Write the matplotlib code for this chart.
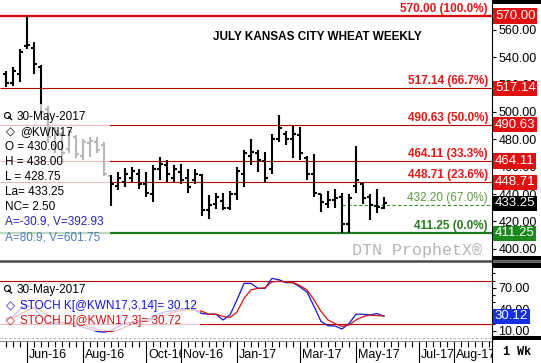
import matplotlib
matplotlib.use('Agg')
import matplotlib.pyplot as plt
from matplotlib.patches import Rectangle
from matplotlib.lines import Line2D
from matplotlib.ticker import FormatStrFormatter, FixedLocator
from matplotlib.transforms import blended_transform_factory, offset_copy, Bbox
import numpy as np

plt.rcParams['font.family'] = ['Liberation Sans', 'DejaVu Sans']

# weekly bars for @KWN17, oldest first, last bar = 30-May-2017
opens = [528, 521, 528, 548, 547, 533, 502, 476, 484, 473, 482, 468, 477, 478, 476,
         453, 446, 449, 452, 455, 447, 440, 458, 461, 452, 456, 452, 450, 454, 428,
         433, 435, 430, 440, 455, 468, 470, 464, 458, 480, 484, 480, 483, 466, 455,
         440, 433, 436, 438, 418, 446, 447, 438, 431, 430.00]
highs = [530, 533, 546, 570, 551, 534, 504, 489, 485, 487, 483, 480, 482, 482, 478,
         454, 456, 459, 460, 458, 456, 461, 467, 465, 461, 462, 458, 458, 455, 439,
         441, 441, 442, 460, 472, 480, 472, 471, 484, 498, 486, 490, 489, 468, 469,
         440, 442, 444, 441, 440, 474.75, 448, 440, 444, 438.00]
lows = [518, 519, 522, 546, 528, 496.5, 477, 470, 467, 470, 466, 465, 467, 470, 453,
        431, 443, 445, 449, 444, 438, 434, 450, 449, 449, 447, 441, 447, 424, 422,
        429, 428, 428, 436, 445, 461, 456, 448, 455, 478, 476, 466, 465, 450, 438,
        427, 430, 430, 411.25, 411.25, 441, 433, 421, 426, 428.75]
closes = [521, 530, 544, 549, 535, 500, 482, 486, 470, 485, 469, 478, 479, 472, 455,
          447, 452, 455, 457, 447, 441, 458, 462, 455, 458, 450, 445, 455, 428, 432,
          438, 430, 440, 457, 470, 471, 465, 452, 480, 488, 480, 484, 470, 455, 441,
          434, 436, 437, 418, 437, 450, 437, 432, 430.75, 433.25]

stoch_k = [25, 30, 40, 45, 42, 30, 22, 20, 22, 20, 18, 15, 12, 9, 8,
           10, 16, 20, 22, 24, 25, 28, 34, 37, 38, 40, 40, 38, 34, 33,
           33, 25, 32, 53, 76, 76, 69, 69, 83, 81, 77, 77, 71, 64, 44,
           23, 17, 16.6, 12.4, 20, 33, 33, 32, 34, 30.12]
stoch_d = [28, 28, 33, 38, 42, 38, 31, 24, 21, 21, 20, 18, 15, 12, 10,
           9, 11, 15, 19, 22, 24, 26, 29, 33, 36, 38, 39, 39, 37, 33,
           33, 30, 28.5, 36, 55, 67, 69, 70, 78, 79, 78, 77, 73, 67, 53,
           37, 25, 20, 16, 18, 25, 29.6, 32, 31, 30.72]

fib_levels = [570.00, 517.14, 490.63, 464.11, 448.71, 432.20, 411.25]
fib_pcts = ['100.0%', '66.7%', '50.0%', '33.3%', '23.6%', '67.0%', '0.0%']

month_labels = ['Jun-16', 'Aug-16', 'Oct-16', 'Nov-16', 'Jan-17', 'Mar-17', 'May-17', 'Jul-17', 'Aug-17']
month_weeks = [3, 11, 20, 25, 33, 42, 50, 59, 64]

W, H = 541, 363


def fx(x):
    return x / W


def fy(y):
    return 1 - y / H


fig = plt.figure(figsize=(W / 100, H / 100), dpi=100)
ax = fig.add_axes([0, fy(258), 492 / W, 258 / H])
ax2 = fig.add_axes([0, fy(341), 492 / W, 78 / H])

weeks = np.arange(len(closes))
xlim = (-6 / 7, 486 / 7)

# ---- price panel ----
ax.vlines(weeks, lows, highs, color='black', lw=1.5, zorder=2)
ax.hlines(opens, weeks - 0.45, weeks, color='black', lw=1.5, zorder=2)
ax.hlines(closes, weeks, weeks + 0.45, color='black', lw=1.5, zorder=2)

line_styles = [('#e00000', 1.6, '-'), ('#b80000', 0.8, '-'), ('#b80000', 0.8, '-'),
               ('#b80000', 0.8, '-'), ('#b80000', 0.8, '-'), ('#3c8c2c', 0.8, (0, (3, 2))),
               ('#1e7b1e', 1.6, '-')]
label_styles = [('#e01818', 'bold'), ('#e01818', 'bold'), ('#e01818', 'bold'),
                ('#e01818', 'bold'), ('#e01818', 'bold'), ('#5a9a40', 'normal'),
                ('#2a7a20', 'bold')]
trans_lbl = offset_copy(blended_transform_factory(ax.transAxes, ax.transData), fig, x=0, y=4, units='dots')
for i, lvl in enumerate(fib_levels):
    col, lw, ls = line_styles[i]
    xmin = 48 if i == 5 else xlim[0]
    ax.hlines(lvl, xmin, xlim[1], color=col, lw=lw, linestyles=ls, zorder=1)
    tcol, tw = label_styles[i]
    ax.text(488 / 492, lvl, '%.2f (%s)' % (lvl, fib_pcts[i]), transform=trans_lbl,
            ha='right', va='baseline', color=tcol, fontsize=8.5, fontweight=tw, zorder=3)

ax.set_xlim(*xlim)
ax.set_ylim(393.3, 581.7)
ax.set_xticks([])
ax.yaxis.tick_right()
ax.set_yticks(np.arange(400, 561, 20))
ax.yaxis.set_major_formatter(FormatStrFormatter('%.2f'))
ax.tick_params(axis='y', direction='out', length=3, width=0.8, pad=1.5, labelsize=9)
for s in ['top', 'left', 'bottom']:
    ax.spines[s].set_visible(False)
ax.spines['right'].set_linewidth(0.8)

trans_box = blended_transform_factory(ax.transAxes, ax.transData)
boxes = [(fib_levels[i], '#e01010') for i in range(5)] + [(closes[-1], 'black'), (fib_levels[6], '#1a8a1a')]
for val, col in boxes:
    ax.text(1.006, val, '%.2f' % val, transform=trans_box, ha='left', va='center',
            color='white', fontsize=9.5, clip_on=False, zorder=5,
            bbox=dict(boxstyle='square,pad=0.12', fc=col, ec='none'))

ax.text(482 / 492, 8 / 258, 'DTN ProphetX®', transform=ax.transAxes, ha='right', va='center',
        family='Liberation Mono', fontsize=12, color='#b4b4b4', zorder=3)

# faded legend backdrop
ax.add_patch(Rectangle((0, 0), 110 / 492, (258 - 104) / 258, transform=ax.transAxes,
                       fc='white', ec='none', alpha=0.72, zorder=4))

# ---- stochastic panel ----
ax2.plot(weeks, stoch_k, color='#1414d0', lw=0.9, zorder=2)
ax2.plot(weeks, stoch_d, color='#d01414', lw=0.9, zorder=2)
ax2.axhline(80, color='#c00000', lw=0.8, zorder=1)
ax2.axhline(20, color='#c00000', lw=0.8, zorder=1)
ax2.axhline(0, color='#b0b0b0', lw=0.8, ls=(0, (2, 2)), zorder=1)
ax2.add_patch(Rectangle((0, 10 / 78), 200 / 492, 48 / 78, transform=ax2.transAxes,
                        fc='white', ec='none', alpha=0.75, zorder=4))
ax2.set_xlim(*xlim)
ax2.set_ylim(-4.3, 104.4)
ax2.yaxis.tick_right()
ax2.set_yticks([10, 40, 70])
ax2.yaxis.set_minor_locator(FixedLocator(np.arange(0, 101, 10)))
ax2.yaxis.set_major_formatter(FormatStrFormatter('%.2f'))
ax2.tick_params(axis='y', which='major', direction='out', length=3, width=0.8, pad=1.5, labelsize=9)
ax2.tick_params(axis='y', which='minor', direction='out', length=2, width=0.8)
ax2.set_xticks(month_weeks)
ax2.set_xticklabels([])
ax2.xaxis.set_minor_locator(FixedLocator(np.arange(0, 70)))
ax2.tick_params(axis='x', which='major', direction='out', length=15.8, width=0.8, color='black')
ax2.tick_params(axis='x', which='minor', direction='out', length=4.3, width=0.8, color='black')
for s in ['top', 'left']:
    ax2.spines[s].set_visible(False)
ax2.spines['bottom'].set_color('#8c8c8c')
ax2.spines['right'].set_linewidth(0.8)

ax2.text(1.006, stoch_k[-1], '%.2f' % stoch_k[-1], transform=blended_transform_factory(ax2.transAxes, ax2.transData),
         ha='left', va='center', color='white', fontsize=9.5, clip_on=False, zorder=5,
         bbox=dict(boxstyle='square,pad=0.12', fc='#1530e0', ec='none'))

# month labels, each clipped at the next month line
trans_m = offset_copy(ax2.get_xaxis_transform(), fig, x=2, y=0, units='dots')
edges = month_weeks + [xlim[1]]
for i, lab in enumerate(month_labels):
    x0 = ax2.transData.transform((edges[i], 0))[0]
    x1 = ax2.transData.transform((edges[i + 1], 0))[0]
    t = ax2.text(month_weeks[i], -14 / 78, lab, transform=trans_m, ha='left', va='center',
                 fontsize=9, clip_on=True)
    t.set_clip_box(Bbox.from_extents(x0, 0, x1 - 0.5, H))

# ---- figure furniture ----
for y0, y1 in [(0, 4), (256, 260), (263, 267.5), (335.5, 340)]:
    fig.add_artist(Rectangle((fx(492), fy(y1)), (W - 492) / W, (y1 - y0) / H,
                             transform=fig.transFigure, fc='black', ec='none'))
fig.add_artist(Line2D([0, 1], [fy(260.8)] * 2, color='#4a4a4a', lw=1.8, transform=fig.transFigure))
fig.add_artist(Line2D([fx(492.4)] * 2, [fy(258), fy(263)], color='black', lw=0.8, transform=fig.transFigure))
fig.add_artist(Line2D([fx(492.4)] * 2, [fy(341), fy(363)], color='black', lw=0.8, transform=fig.transFigure))

fig.text(fx(317.5), fy(37), 'JULY KANSAS CITY WHEAT WEEKLY', ha='center', va='center',
         fontsize=8.5, fontweight='bold')
fig.text(fx(503), fy(352), '1 Wk', ha='left', va='center', family='Liberation Mono',
         fontsize=8.5, fontweight='bold')


def magnifier(cx, cy):
    fig.add_artist(Line2D([fx(cx)], [fy(cy)], marker='o', ms=4.3, mfc='none', mec='black',
                          mew=0.8, transform=fig.transFigure))
    fig.add_artist(Line2D([fx(cx + 2.2), fx(cx + 5)], [fy(cy + 2.2), fy(cy + 5)], color='black',
                          lw=1, transform=fig.transFigure))


magnifier(6.5, 114.5)
magnifier(6.5, 288)

fs = 8.5
fig.text(fx(16.5), fy(117), '30-May-2017', va='center', fontsize=fs)
fig.text(fx(6), fy(132), '◇', va='center', fontsize=fs, family=['DejaVu Sans'])
fig.text(fx(20.5), fy(132), '@KWN17', va='center', fontsize=fs)
legend_rows = ['O = %.2f' % opens[-1], 'H = %.2f' % highs[-1], 'L = %.2f' % lows[-1],
               'La= %.2f' % closes[-1], 'NC= %.2f' % (closes[-1] - closes[-2])]
for j, row in enumerate(legend_rows):
    fig.text(fx(5), fy(147 + 15 * j), row, va='center', fontsize=fs)
fig.text(fx(5), fy(222), 'A=-30.9, V=392.93', va='center', fontsize=fs, color='#2424c0')
fig.text(fx(5), fy(237), 'A=80.9, V=601.75', va='center', fontsize=fs, color='#4a7ab8')

fig.text(fx(16.5), fy(290), '30-May-2017', va='center', fontsize=fs)
fig.text(fx(6), fy(305.7), '◇', va='center', fontsize=fs, color='#1414d0', family=['DejaVu Sans'])
fig.text(fx(20.5), fy(305.7), 'STOCH K[@KWN17,3,14]= %.2f' % stoch_k[-1], va='center',
         fontsize=fs, color='#1414d0')
fig.text(fx(6), fy(320.7), '◇', va='center', fontsize=fs, color='#d01414', family=['DejaVu Sans'])
fig.text(fx(20.5), fy(320.7), 'STOCH D[@KWN17,3]= %.2f' % stoch_d[-1], va='center',
         fontsize=fs, color='#d01414')

fig.savefig('out.png', dpi=100)
